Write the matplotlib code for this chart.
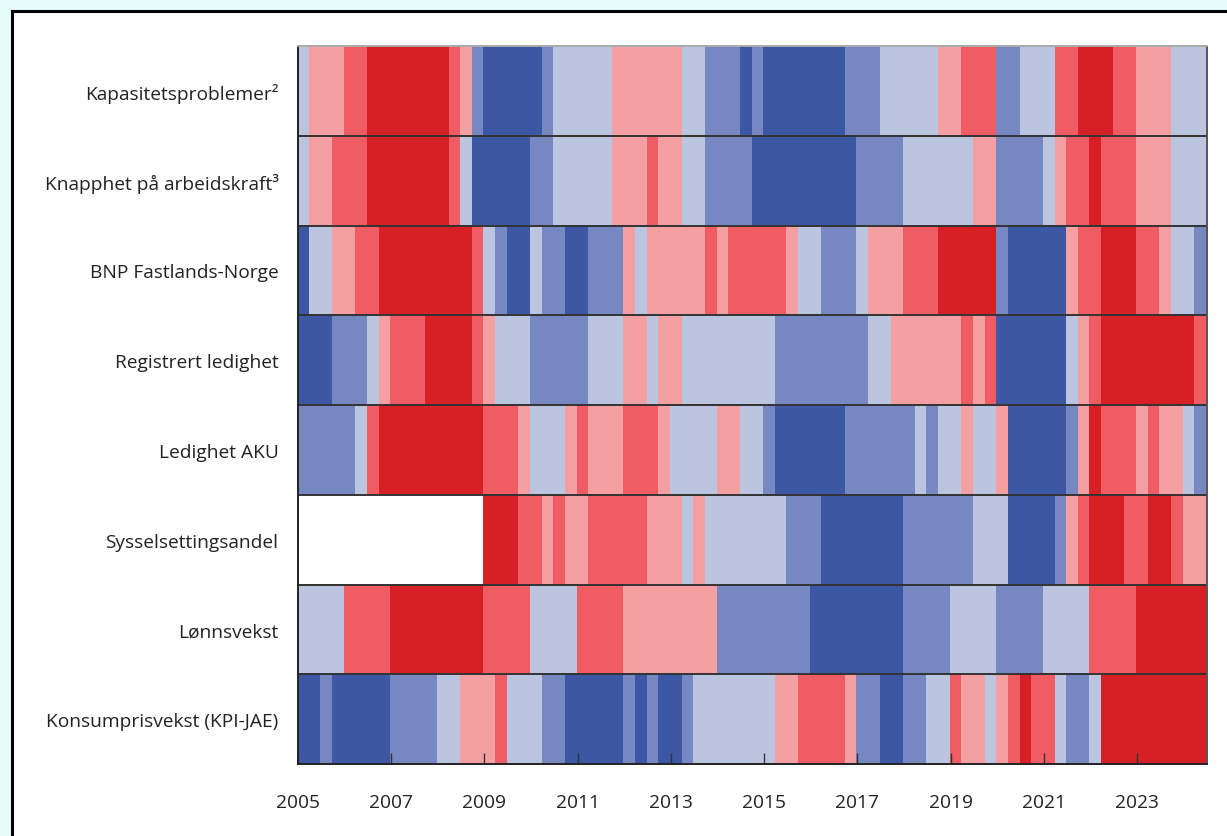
import numpy as np
import matplotlib
matplotlib.use("Agg")
import matplotlib.pyplot as plt
from matplotlib.colors import ListedColormap, BoundaryNorm
from matplotlib.patches import Rectangle

plt.rcParams['font.family'] = ['Open Sans', 'DejaVu Sans']

# Categories (top to bottom)
categories = ["Kapasitetsproblemer²", "Knapphet på arbeidskraft³", "BNP Fastlands-Norge",
              "Registrert ledighet", "Ledighet AKU", "Sysselsettingsandel",
              "Lønnsvekst", "Konsumprisvekst (KPI-JAE)"]

# Quarterly levels 2005Q1-2024Q2: 1=dark blue ... 6=dark red, 0 = missing
kapasitet = [3,4,4,4,5,5,6,6,6,6,6,6,6,5,4,2,1,1,1,1,
             1,2,3,3,3,3,3,4,4,4,4,4,4,3,3,2,2,2,1,2,
             1,1,1,1,1,1,1,2,2,2,3,3,3,3,3,4,4,5,5,5,
             2,2,3,3,3,5,5,6,6,6,5,5,4,4,4,3,3,3]
knapphet = [3,4,4,5,5,5,6,6,6,6,6,6,6,5,3,1,1,1,1,1,
            2,2,3,3,3,3,3,4,4,4,5,4,4,3,3,2,2,2,2,1,
            1,1,1,1,1,1,1,1,2,2,2,2,3,3,3,3,3,3,4,4,
            2,2,2,2,3,4,5,5,6,5,5,5,4,4,4,3,3,3]
bnp = [1,3,3,4,4,5,5,6,6,6,6,6,6,6,6,5,3,2,1,1,
       3,2,2,1,1,2,2,2,4,3,4,4,4,4,4,5,4,5,5,5,
       5,5,4,3,3,2,2,2,3,4,4,4,5,5,5,6,6,6,6,6,
       2,1,1,1,1,1,4,5,5,6,6,6,5,5,4,3,3,2]
registrert = [1,1,1,2,2,2,3,4,5,5,5,6,6,6,6,5,4,3,3,3,
              2,2,2,2,2,3,3,3,4,4,3,4,4,3,3,3,3,3,3,3,
              3,2,2,2,2,2,2,2,2,3,3,4,4,4,4,4,4,5,4,5,
              1,1,1,1,1,1,3,4,5,6,6,6,6,6,6,6,6,5]
aku = [2,2,2,2,2,3,5,6,6,6,6,6,6,6,6,6,5,5,5,4,
       3,3,3,4,5,4,4,4,5,5,5,4,3,3,3,3,4,4,3,3,
       2,1,1,1,1,1,1,2,2,2,2,2,2,3,2,3,3,4,3,3,
       4,1,1,1,1,1,2,4,6,5,5,5,4,5,4,4,3,2]
sysselsetting = [0,0,0,0,0,0,0,0,0,0,0,0,0,0,0,0,6,6,6,5,
                 5,4,5,4,4,5,5,5,5,5,4,4,4,3,4,3,3,3,3,3,
                 3,3,2,2,2,1,1,1,1,1,1,1,2,2,2,2,2,2,3,3,
                 3,1,1,1,1,2,4,5,6,6,6,5,5,6,6,5,4,4]
lonn = [3,3,3,3,5,5,5,5,6,6,6,6,6,6,6,6,5,5,5,5,
        3,3,3,3,5,5,5,5,4,4,4,4,4,4,4,4,2,2,2,2,
        2,2,2,2,1,1,1,1,1,1,1,1,2,2,2,2,3,3,3,3,
        2,2,2,2,3,3,3,3,5,5,5,5,6,6,6,6,6,6]
kpi = [1,1,2,1,1,1,1,1,2,2,2,2,3,3,4,4,4,5,3,3,
       3,2,2,1,1,1,1,1,2,1,2,1,1,2,3,3,3,3,3,3,
       3,4,4,5,5,5,5,4,2,2,1,1,2,2,3,3,5,4,4,3,
       4,5,6,5,5,3,2,2,3,6,6,6,6,6,6,6,6,6]

year_ticks = [2005, 2007, 2009, 2011, 2013, 2015, 2017, 2019, 2021, 2023]
start_year = 2005

level_colors = ["#3c58a5", "#7687c1", "#bcc5e0", "#f4a0a3", "#f05c63", "#d62026"]

rows = [kapasitet, knapphet, bnp, registrert, aku, sysselsetting, lonn, kpi]
data = np.array(rows, dtype=float)
data[data == 0] = np.nan
nq = data.shape[1]

W, H = 1227, 837
fig = plt.figure(figsize=(W / 100, H / 100), dpi=100)
fig.patch.set_facecolor("#e6fbfb")
fig.patches.append(Rectangle((12 / W, -0.05), 1.2, 1 - 12 / H + 0.05, transform=fig.transFigure,
                             facecolor="white", edgecolor="black", linewidth=2.2, zorder=-10))

ax = fig.add_axes([298 / W, 1 - 765 / H, (1207 - 298) / W, (765 - 47) / H])
ax.set_zorder(5)
cmap = ListedColormap(level_colors)
cmap.set_bad("white")
norm = BoundaryNorm(np.arange(0.5, 7.5, 1), cmap.N)
xedges = start_year + np.arange(nq + 1) / 4.0
yedges = np.arange(len(categories) + 1)
ax.pcolormesh(xedges, yedges, np.ma.masked_invalid(data), cmap=cmap, norm=norm,
              edgecolors="face", linewidth=0.3)
ax.set_xlim(xedges[0], xedges[-1])
ax.set_ylim(len(categories), 0)

for y in range(1, len(categories)):
    ax.axhline(y, color="#333333", linewidth=1.4)

ax.set_yticks(np.arange(len(categories)) + 0.5)
ax.set_yticklabels(categories, fontsize=13.8, color="#222222")
ax.tick_params(axis="y", length=0, pad=14)
ax.set_xticks(year_ticks)
ax.set_xticklabels([str(y) for y in year_ticks], fontsize=13.8, color="#222222")
ax.tick_params(axis="x", direction="in", length=8, width=1, color="#333333", pad=21)

ax.spines["left"].set_color("#222222")
ax.spines["bottom"].set_color("#222222")
ax.spines["top"].set_color("#aaaaaa")
ax.spines["right"].set_color("#555555")
for s in ax.spines.values():
    s.set_linewidth(1.4)

fig.savefig("out.png", dpi=100, facecolor=fig.get_facecolor())
